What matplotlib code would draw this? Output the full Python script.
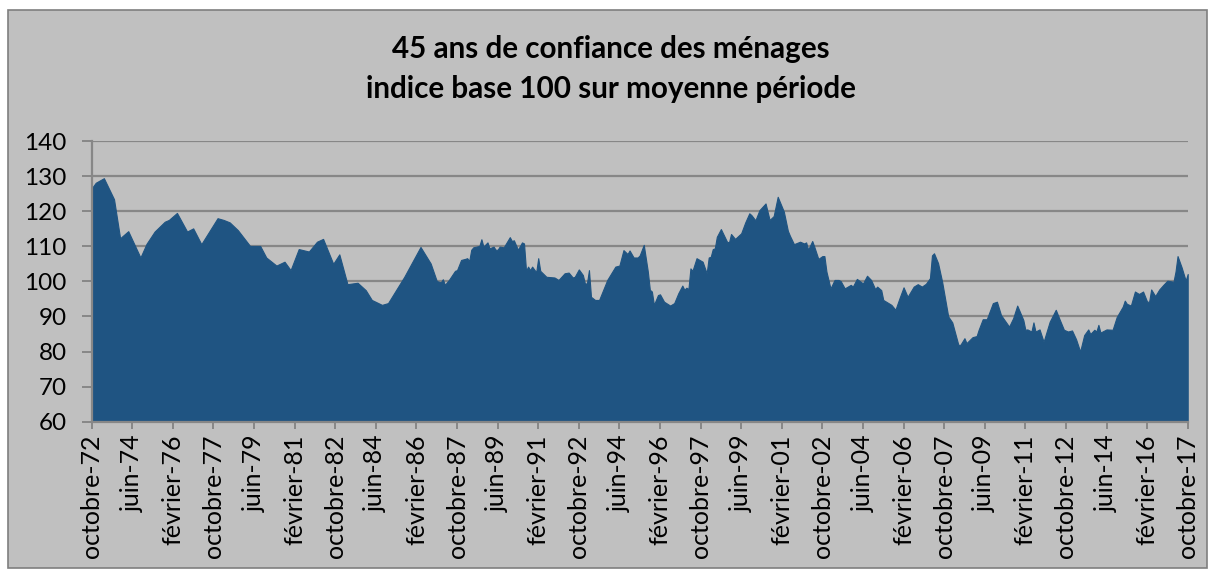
import matplotlib
matplotlib.use("Agg")
import matplotlib.pyplot as plt
from matplotlib.patches import Rectangle

# months elapsed since octobre 1972, and index value (base 100)
mois = [0, 2, 6, 11, 14, 18, 24, 27, 31, 36, 38, 42, 47, 50, 54, 62, 65, 68, 72, 78,
        83, 86, 91, 95, 98, 102, 107, 111, 114, 119, 122, 126, 131, 135, 138, 143, 146, 154, 162, 167,
        170, 172, 173, 174, 176, 179, 180, 182, 184, 185, 186, 187, 188, 191, 192, 193, 195, 196, 198, 199,
        200, 201, 203, 206, 207, 208, 210, 212, 213, 214, 215, 216, 217, 219, 220, 221, 224, 228, 230, 233,
        235, 237, 238, 240, 242, 243, 244, 245, 246, 248, 250, 254, 258, 260, 262, 264, 265, 267, 269, 270,
        272, 274, 275, 276, 277, 279, 280, 282, 285, 287, 289, 291, 292, 293, 294, 295, 296, 298, 301, 303,
        304, 305, 306, 307, 308, 310, 313, 314, 315, 317, 320, 322, 324, 325, 327, 329, 332, 334, 336, 338,
        341, 343, 344, 346, 349, 351, 352, 353, 355, 356, 358, 360, 361, 362, 364, 366, 368, 369, 371, 374,
        375, 377, 380, 382, 384, 386, 387, 389, 390, 394, 396, 398, 400, 402, 405, 407, 409, 411, 413, 414,
        415, 417, 419, 421, 422, 424, 427, 428, 430, 431, 434, 436, 437, 439, 441, 444, 446, 448, 452, 454,
        456, 459, 460, 461, 463, 464, 465, 467, 469, 472, 475, 477, 479, 481, 483, 485, 487, 489, 491, 492,
        494, 495, 496, 497, 500, 503, 505, 508, 509, 510, 512, 514, 516, 518, 520, 521, 522, 524, 526, 528,
        530, 533, 534, 535, 537, 539, 540]
indice = [126.5, 128.1, 129.4, 123.4, 112.3, 114.3, 106.8, 110.7, 114.2, 117.0, 117.5, 119.5, 114.2, 115.1, 110.6, 118.0, 117.5, 116.8, 114.6, 110.1,
          110.1, 106.8, 104.5, 105.6, 103.2, 109.2, 108.5, 111.3, 112.1, 105.0, 107.7, 99.2, 99.6, 97.5, 94.7, 93.3, 93.8, 101.3, 109.8, 105.1,
          100.1, 99.7, 100.6, 99.0, 100.4, 103.0, 103.2, 106.1, 106.4, 106.6, 105.8, 109.0, 109.7, 110.1, 112.0, 109.9, 111.1, 109.4, 109.9, 109.0,
          109.0, 109.9, 109.7, 112.6, 111.5, 111.7, 109.0, 111.1, 110.8, 103.0, 104.2, 103.2, 104.2, 102.6, 106.6, 103.0, 101.3, 101.1, 100.4, 102.3,
          102.5, 101.1, 101.3, 103.4, 101.8, 99.4, 99.4, 103.2, 95.6, 94.7, 94.7, 100.4, 104.2, 104.5, 108.9, 107.8, 108.8, 106.8, 106.8, 107.4,
          110.4, 102.8, 97.6, 97.1, 93.3, 96.1, 96.3, 94.2, 93.1, 93.8, 96.6, 98.8, 97.6, 98.2, 97.8, 103.7, 103.0, 106.6, 105.6, 102.3,
          106.8, 107.0, 109.2, 109.4, 112.7, 114.9, 111.3, 111.1, 113.5, 112.1, 113.7, 116.8, 119.4, 118.9, 117.4, 120.3, 122.2, 117.5, 118.6, 124.1,
          119.9, 114.4, 113.0, 110.6, 111.3, 110.8, 111.1, 109.0, 111.5, 109.9, 106.4, 107.2, 107.2, 102.8, 98.0, 100.4, 100.4, 100.1, 98.0, 99.0,
          98.5, 100.7, 99.4, 101.6, 100.4, 97.8, 98.5, 97.5, 94.7, 93.3, 91.9, 95.2, 98.3, 95.6, 98.5, 99.2, 98.5, 99.3, 100.9, 107.4,
          108.0, 105.2, 99.9, 93.3, 90.0, 88.3, 81.9, 81.9, 83.8, 82.4, 84.1, 84.4, 86.2, 89.2, 89.2, 93.8, 94.2, 90.4, 87.1, 89.5,
          93.1, 89.0, 86.2, 86.3, 85.7, 88.3, 85.7, 86.3, 82.8, 88.5, 91.9, 89.0, 86.2, 85.7, 86.0, 83.5, 80.0, 84.7, 86.3, 85.0,
          86.2, 85.7, 87.6, 85.4, 86.3, 86.2, 89.8, 92.8, 94.5, 93.6, 93.1, 97.1, 96.4, 97.1, 94.2, 94.2, 97.7, 95.8, 97.7, 99.0,
          100.2, 99.9, 102.8, 107.2, 104.0, 100.2, 102.1]

tick_mois = list(range(0, 541, 20))
tick_labels = ["octobre-72", "juin-74", "février-76", "octobre-77", "juin-79", "février-81",
               "octobre-82", "juin-84", "février-86", "octobre-87", "juin-89", "février-91",
               "octobre-92", "juin-94", "février-96", "octobre-97", "juin-99", "février-01",
               "octobre-02", "juin-04", "février-06", "octobre-07", "juin-09", "février-11",
               "octobre-12", "juin-14", "février-16", "octobre-17"]
y_ticks = [60, 70, 80, 90, 100, 110, 120, 130, 140]
titre = "45 ans de confiance des ménages\nindice base 100 sur moyenne période"

W, H = 1214, 572
fig = plt.figure(figsize=(W / 100, H / 100), dpi=100)
fig.patch.set_facecolor("white")
fig.patches.append(Rectangle((8 / W, 1 - 568 / H), (1207 - 8) / W, (568 - 10) / H,
                             transform=fig.transFigure, facecolor="#C0C0C0",
                             edgecolor="#7F7F7F", linewidth=1.2, zorder=-10))

ax = fig.add_axes([91.7 / W, 1 - 421.7 / H, (1187.7 - 91.7) / W, (421.7 - 141) / H])
ax.set_zorder(1)
ax.set_facecolor("#C0C0C0")
ax.fill_between(mois, indice, 60, color="#1F5482", linewidth=0.8, edgecolor="#1F5482", zorder=2)
ax.set_xlim(0, 540)
ax.set_ylim(60, 140)
ax.set_yticks(y_ticks)
ax.set_yticklabels([str(v) for v in y_ticks], fontsize=17.5, family="Lato")
ax.set_xticks(tick_mois)
ax.set_xticklabels(tick_labels, rotation=90, fontsize=18, family="Lato")
ax.yaxis.grid(True, color="#878787", linewidth=1.6, zorder=1)
ax.set_axisbelow(True)
for s in ["top", "right"]:
    ax.spines[s].set_visible(False)
for s in ["left", "bottom"]:
    ax.spines[s].set_color("#878787")
    ax.spines[s].set_linewidth(1.6)
ax.tick_params(axis="both", colors="#878787", labelcolor="black", width=1.4)
ax.tick_params(axis="x", length=5, pad=4)
ax.tick_params(axis="y", length=7, pad=11)

fig.text(0.503, 1 - 69 / H, titre, ha="center", va="center", fontsize=21.3,
         fontweight="bold", family="Lato", linespacing=1.55)

fig.savefig("out.png", dpi=100, facecolor="white")
